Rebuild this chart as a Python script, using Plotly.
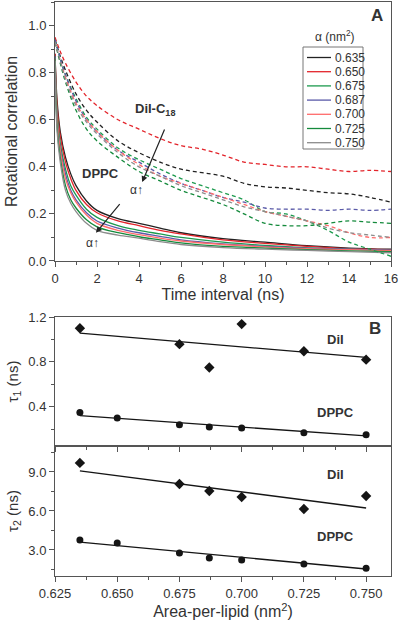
import plotly.graph_objects as go

# ---------------- Panel A data ----------------
alpha_labels = ["0.635", "0.650", "0.675", "0.687", "0.700", "0.725", "0.750"]
colors = ["#222222", "#e3242b", "#1c9a4e", "#5a5aa8", "#ff6b6b", "#148a3c", "#8c8c8c"]

t_dppc = [0, 0.1, 0.25, 0.5, 0.75, 1, 1.5, 2, 3, 4, 5, 6, 8, 10, 12, 14, 16]
dppc_635 = [0.88, 0.68, 0.55, 0.44, 0.37, 0.32, 0.255, 0.215, 0.18, 0.16, 0.14, 0.12, 0.095, 0.08, 0.065, 0.055, 0.05]
dppc_650 = [0.88, 0.66, 0.53, 0.42, 0.35, 0.30, 0.24, 0.205, 0.17, 0.15, 0.13, 0.115, 0.09, 0.075, 0.062, 0.052, 0.048]
dppc_675 = [0.87, 0.63, 0.50, 0.39, 0.32, 0.28, 0.22, 0.185, 0.15, 0.13, 0.115, 0.10, 0.08, 0.066, 0.056, 0.05, 0.045]
dppc_687 = [0.87, 0.61, 0.48, 0.37, 0.30, 0.26, 0.205, 0.17, 0.14, 0.12, 0.105, 0.09, 0.073, 0.062, 0.055, 0.05, 0.046]
dppc_700 = [0.86, 0.60, 0.47, 0.35, 0.29, 0.25, 0.195, 0.16, 0.13, 0.112, 0.097, 0.085, 0.07, 0.06, 0.052, 0.048, 0.044]
dppc_725 = [0.86, 0.57, 0.44, 0.32, 0.26, 0.225, 0.175, 0.145, 0.12, 0.103, 0.09, 0.077, 0.062, 0.055, 0.048, 0.043, 0.04]
dppc_750 = [0.85, 0.55, 0.42, 0.30, 0.245, 0.21, 0.16, 0.13, 0.11, 0.097, 0.082, 0.07, 0.057, 0.05, 0.045, 0.04, 0.035]
dppc_curves = [dppc_635, dppc_650, dppc_675, dppc_687, dppc_700, dppc_725, dppc_750]

t_dil = [0, 0.25, 0.5, 1, 1.5, 2, 3, 4, 5, 6, 7, 8, 9, 10, 11, 12, 13, 14, 15, 16]
dil_635 = [0.94, 0.87, 0.81, 0.71, 0.64, 0.59, 0.51, 0.46, 0.42, 0.39, 0.375, 0.36, 0.33, 0.315, 0.31, 0.30, 0.29, 0.285, 0.27, 0.25]
dil_650 = [0.95, 0.89, 0.84, 0.76, 0.70, 0.66, 0.60, 0.56, 0.52, 0.49, 0.475, 0.45, 0.42, 0.41, 0.40, 0.40, 0.39, 0.38, 0.385, 0.38]
dil_675 = [0.94, 0.86, 0.79, 0.69, 0.61, 0.56, 0.48, 0.43, 0.39, 0.35, 0.32, 0.29, 0.26, 0.21, 0.20, 0.17, 0.13, 0.08, 0.05, 0.02]
dil_687 = [0.94, 0.86, 0.79, 0.68, 0.60, 0.55, 0.47, 0.42, 0.37, 0.33, 0.30, 0.27, 0.25, 0.225, 0.22, 0.22, 0.215, 0.22, 0.215, 0.22]
dil_700 = [0.93, 0.85, 0.78, 0.67, 0.60, 0.55, 0.47, 0.41, 0.36, 0.33, 0.30, 0.27, 0.24, 0.21, 0.19, 0.17, 0.15, 0.12, 0.10, 0.10]
dil_725 = [0.93, 0.84, 0.76, 0.64, 0.56, 0.51, 0.44, 0.38, 0.34, 0.30, 0.27, 0.24, 0.20, 0.16, 0.15, 0.15, 0.16, 0.17, 0.165, 0.16]
dil_750 = [0.93, 0.85, 0.77, 0.66, 0.59, 0.54, 0.46, 0.40, 0.36, 0.32, 0.29, 0.26, 0.23, 0.21, 0.19, 0.17, 0.14, 0.12, 0.11, 0.10]
dil_curves = [dil_635, dil_650, dil_675, dil_687, dil_700, dil_725, dil_750]

# ---------------- Panels B and C data ----------------
area_dppc = [0.635, 0.650, 0.675, 0.687, 0.700, 0.725, 0.750]
tau1_dppc = [0.348, 0.30, 0.24, 0.22, 0.21, 0.168, 0.15]
tau2_dppc = [3.77, 3.54, 2.77, 2.38, 2.23, 1.92, 1.60]

area_dil = [0.635, 0.675, 0.687, 0.700, 0.725, 0.750]
tau1_dil = [1.10, 0.958, 0.75, 1.137, 0.895, 0.82]
tau2_dil = [9.70, 8.08, 7.54, 7.08, 6.15, 7.15]

fit_x = [0.635, 0.750]
fit_tau1_dil = [1.056, 0.84]
fit_tau1_dppc = [0.32, 0.14]
fit_tau2_dil = [9.08, 6.23]
fit_tau2_dppc = [3.60, 1.54]

FONT = "Arial, Liberation Sans, sans-serif"
AX = "#555555"
TXT = "#333333"

fig = go.Figure()

for lab, col, yv in zip(alpha_labels, colors, dppc_curves):
    fig.add_trace(go.Scatter(x=t_dppc, y=yv, mode="lines", name=lab, showlegend=False,
                             line=dict(color=col, width=1.3, shape="spline"),
                             xaxis="x", yaxis="y"))
for lab, col, yv in zip(alpha_labels, colors, dil_curves):
    fig.add_trace(go.Scatter(x=t_dil, y=yv, mode="lines", name=lab, showlegend=False,
                             line=dict(color=col, width=1.3, dash="4px,3px", shape="spline"),
                             xaxis="x", yaxis="y"))

mk = "#151515"
# Panel B
fig.add_trace(go.Scatter(x=fit_x, y=fit_tau1_dil, mode="lines", showlegend=False,
                         line=dict(color=mk, width=1.3), xaxis="x2", yaxis="y2"))
fig.add_trace(go.Scatter(x=fit_x, y=fit_tau1_dppc, mode="lines", showlegend=False,
                         line=dict(color=mk, width=1.3), xaxis="x2", yaxis="y2"))
fig.add_trace(go.Scatter(x=area_dil, y=tau1_dil, mode="markers", showlegend=False,
                         marker=dict(symbol="diamond", size=8, color=mk), xaxis="x2", yaxis="y2"))
fig.add_trace(go.Scatter(x=area_dppc, y=tau1_dppc, mode="markers", showlegend=False,
                         marker=dict(symbol="circle", size=7, color=mk), xaxis="x2", yaxis="y2"))
# Panel C
fig.add_trace(go.Scatter(x=fit_x, y=fit_tau2_dil, mode="lines", showlegend=False,
                         line=dict(color=mk, width=1.3), xaxis="x3", yaxis="y3"))
fig.add_trace(go.Scatter(x=fit_x, y=fit_tau2_dppc, mode="lines", showlegend=False,
                         line=dict(color=mk, width=1.3), xaxis="x3", yaxis="y3"))
fig.add_trace(go.Scatter(x=area_dil, y=tau2_dil, mode="markers", showlegend=False,
                         marker=dict(symbol="diamond", size=8, color=mk), xaxis="x3", yaxis="y3"))
fig.add_trace(go.Scatter(x=area_dppc, y=tau2_dppc, mode="markers", showlegend=False,
                         marker=dict(symbol="circle", size=7, color=mk), xaxis="x3", yaxis="y3"))

common = dict(showline=True, linecolor=AX, linewidth=1, mirror=True, ticks="outside",
              ticklen=5, tickcolor=AX, showgrid=False, zeroline=False, automargin=False,
              ticklabeloverflow="allow",
              tickfont=dict(family=FONT, size=13, color=TXT))

fig.update_layout(
    width=400, height=622,
    margin=dict(l=55, r=9, t=2, b=46),
    paper_bgcolor="white", plot_bgcolor="white",
    font=dict(family=FONT, color=TXT),
    xaxis=dict(domain=[0, 1], range=[0, 16], dtick=2, anchor="y",
               minor=dict(dtick=1, ticks="outside", ticklen=3, tickcolor=AX),
               title=dict(text="Time interval (ns)", font=dict(size=16, family=FONT, color=TXT), standoff=4),
               **common),
    yaxis=dict(domain=[0.5488, 1.0], range=[0, 1.1], tickvals=[0, 0.2, 0.4, 0.6, 0.8, 1.0],
               tickformat=".1f", anchor="x",
               minor=dict(dtick=0.1, ticks="outside", ticklen=3, tickcolor=AX),
               title=dict(text="Rotational correlation", font=dict(size=16, family=FONT, color=TXT), standoff=6),
               **common),
    xaxis2=dict(domain=[0, 1], range=[0.625, 0.76], dtick=0.025, tick0=0.625, anchor="y2",
                showticklabels=False,
                minor=dict(dtick=0.0125, ticks="outside", ticklen=3, tickcolor=AX),
                **common),
    yaxis2=dict(domain=[0.2265, 0.4512], range=[0.05, 1.2], tickvals=[0.4, 0.8, 1.2],
                tickformat=".1f", anchor="x2",
                minor=dict(tickvals=[0.2, 0.6, 1.0], ticks="outside", ticklen=3, tickcolor=AX),
                title=dict(text="τ<sub>1</sub> (ns)", font=dict(size=15, family=FONT, color=TXT), standoff=6),
                **common),
    xaxis3=dict(domain=[0, 1], range=[0.625, 0.76], dtick=0.025, tick0=0.625, anchor="y3",
                tickformat=".3f",
                minor=dict(dtick=0.0125, ticks="outside", ticklen=3, tickcolor=AX),
                title=dict(text="Area-per-lipid (nm<sup>2</sup>)", font=dict(size=16, family=FONT, color=TXT), standoff=6),
                **common),
    yaxis3=dict(domain=[0, 0.2265], range=[1, 11], tickvals=[3, 6, 9],
                tickformat=".1f", anchor="x3",
                minor=dict(tickvals=[1.5, 4.5, 7.5, 10.5], ticks="outside", ticklen=3, tickcolor=AX),
                title=dict(text="τ<sub>2</sub> (ns)", font=dict(size=15, family=FONT, color=TXT), standoff=6),
                **common),
    showlegend=False,
)

ann = []
def A(x, y, text, xref, yref, size=13, bold=False, **kw):
    ann.append(dict(x=x, y=y, xref=xref, yref=yref, text=("<b>%s</b>" % text) if bold else text,
                    showarrow=False, font=dict(family=FONT, size=size, color=TXT), **kw))

# custom compact legend (page geometry converted to paper fractions)
shapes = []
def px2x(px):
    return (px - 55) / 336.0
def py2y(py):
    return (576 - py) / 574.0

shapes.append(dict(type="rect", xref="paper", yref="paper",
                   x0=px2x(303), x1=px2x(363), y0=py2y(149), y1=py2y(47),
                   line=dict(color="#777777", width=1), fillcolor="white", layer="above"))
for i, (lab, col) in enumerate(zip(alpha_labels, colors)):
    yy = py2y(57.5 + i * 14.2)
    shapes.append(dict(type="line", xref="paper", yref="paper", x0=px2x(307), x1=px2x(331),
                       y0=yy, y1=yy, line=dict(color=col, width=1.3), layer="above"))
    A(px2x(333), yy, lab, "paper", "paper", size=12, xanchor="left", yanchor="middle")
A(px2x(335), py2y(36), "α (nm<sup>2</sup>)", "paper", "paper", size=12, xanchor="center", yanchor="middle")

A(px2x(377), py2y(15), "A", "paper", "paper", size=17, bold=True, xanchor="center", yanchor="middle")
A(px2x(375), py2y(328), "B", "paper", "paper", size=17, bold=True, xanchor="center", yanchor="middle")
A(4.75, 0.645, "DiI-C<sub>18</sub>", "x", "y", size=13, bold=True)
A(2.15, 0.37, "DPPC", "x", "y", size=13, bold=True)
A(3.9, 0.30, "α<b>↑</b>", "x", "y", size=12)
A(1.8, 0.075, "α<b>↑</b>", "x", "y", size=12)
A(0.7375, 1.0, "DiI", "x2", "y2", size=13, bold=True)
A(0.7375, 0.35, "DPPC", "x2", "y2", size=13, bold=True)
A(0.7375, 8.8, "DiI", "x3", "y3", size=13, bold=True)
A(0.7375, 4.05, "DPPC", "x3", "y3", size=13, bold=True)

# arrows
ann.append(dict(x=4.15, y=0.335, xref="x", yref="y", ax=23, ay=-54, text="", showarrow=True,
                arrowhead=2, arrowsize=1, arrowwidth=1.2, arrowcolor="#222222"))
ann.append(dict(x=1.95, y=0.12, xref="x", yref="y", ax=25, ay=-30, text="", showarrow=True,
                arrowhead=2, arrowsize=1, arrowwidth=1.2, arrowcolor="#222222"))

fig.update_layout(annotations=ann, shapes=shapes)
fig.write_html("out.html", config={"displayModeBar": False},
               post_script="document.body.style.margin='0';document.body.style.padding='0';")
